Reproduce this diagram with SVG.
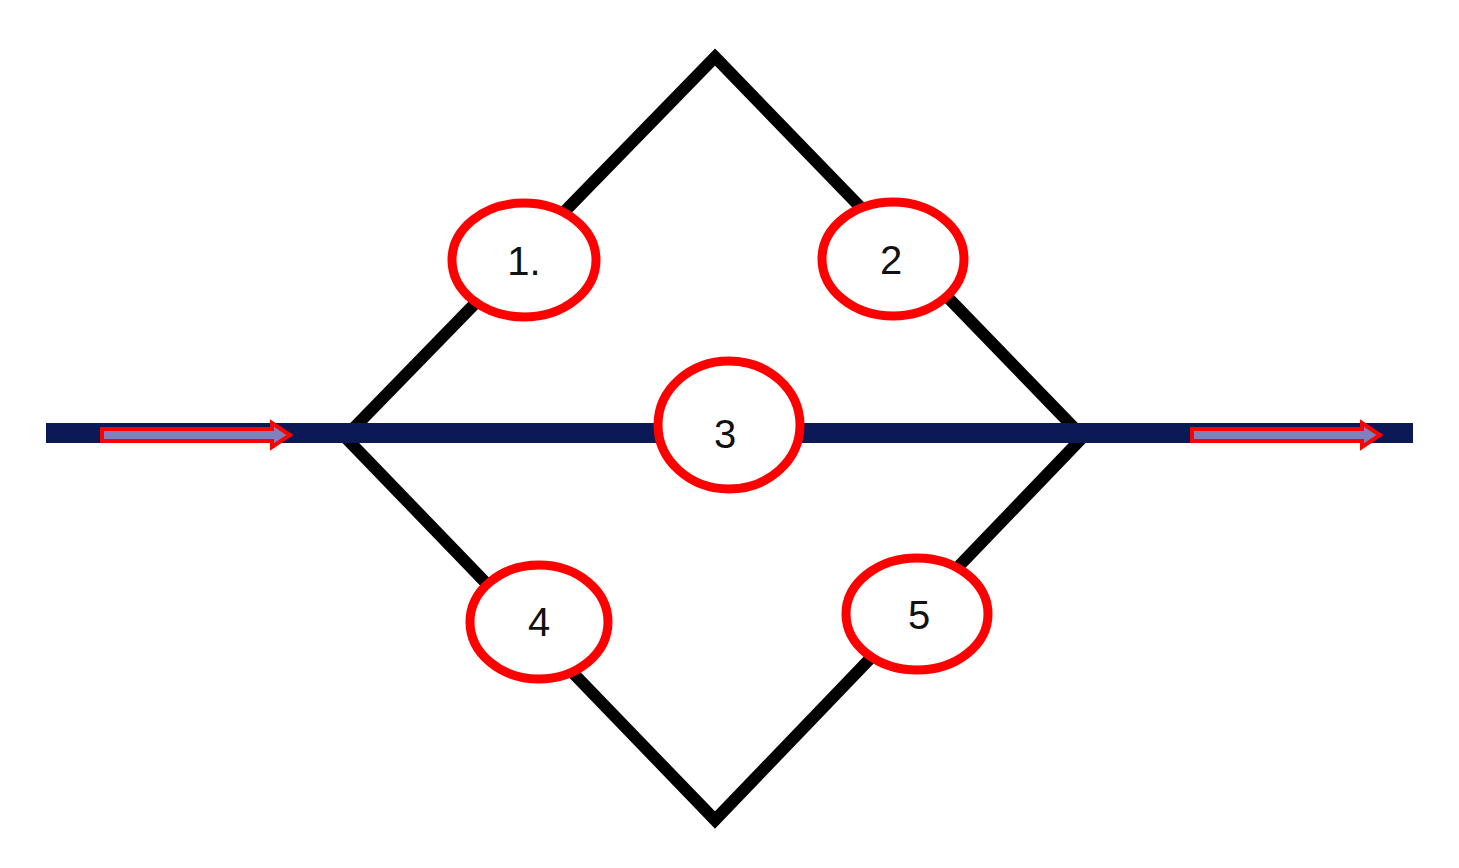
<svg xmlns="http://www.w3.org/2000/svg" width="1459" height="868" viewBox="0 0 1459 868">
<style>
.e{fill:#fff;stroke:#f00;stroke-width:9}
.t{font-family:"Liberation Sans",Arial,sans-serif;font-size:40px;text-anchor:middle;fill:#111}
.a{fill:#8080c0;stroke:#f00;stroke-width:4}
</style>
<rect width="1459" height="868" fill="#fff"/>
<g id="connectors">
<polygon points="715,57 1083,437 715,820 345,437" fill="none" stroke="#000" stroke-width="12"/>
<rect x="46" y="423" width="1367" height="20" fill="#0b1a57"/>
<path class="a" d="M102,429 H272 V423 L290,435 L272,447 V441 H102 Z"/>
<path class="a" d="M1192,429 H1362 V423 L1380,435 L1362,447 V441 H1192 Z"/>
</g>
<g id="n1"><ellipse class="e" cx="524" cy="260" rx="72" ry="57"/><text class="t" x="524" y="275">1.</text></g>
<g id="n2"><ellipse class="e" cx="893" cy="259" rx="71" ry="57"/><text class="t" x="891" y="274">2</text></g>
<g id="n3"><ellipse class="e" cx="729" cy="425" rx="71" ry="64"/><text class="t" x="725" y="448">3</text></g>
<g id="n4"><ellipse class="e" cx="539" cy="622" rx="69" ry="57"/><text class="t" x="539" y="636">4</text></g>
<g id="n5"><ellipse class="e" cx="917" cy="614" rx="71" ry="56"/><text class="t" x="919" y="629">5</text></g>
</svg>
